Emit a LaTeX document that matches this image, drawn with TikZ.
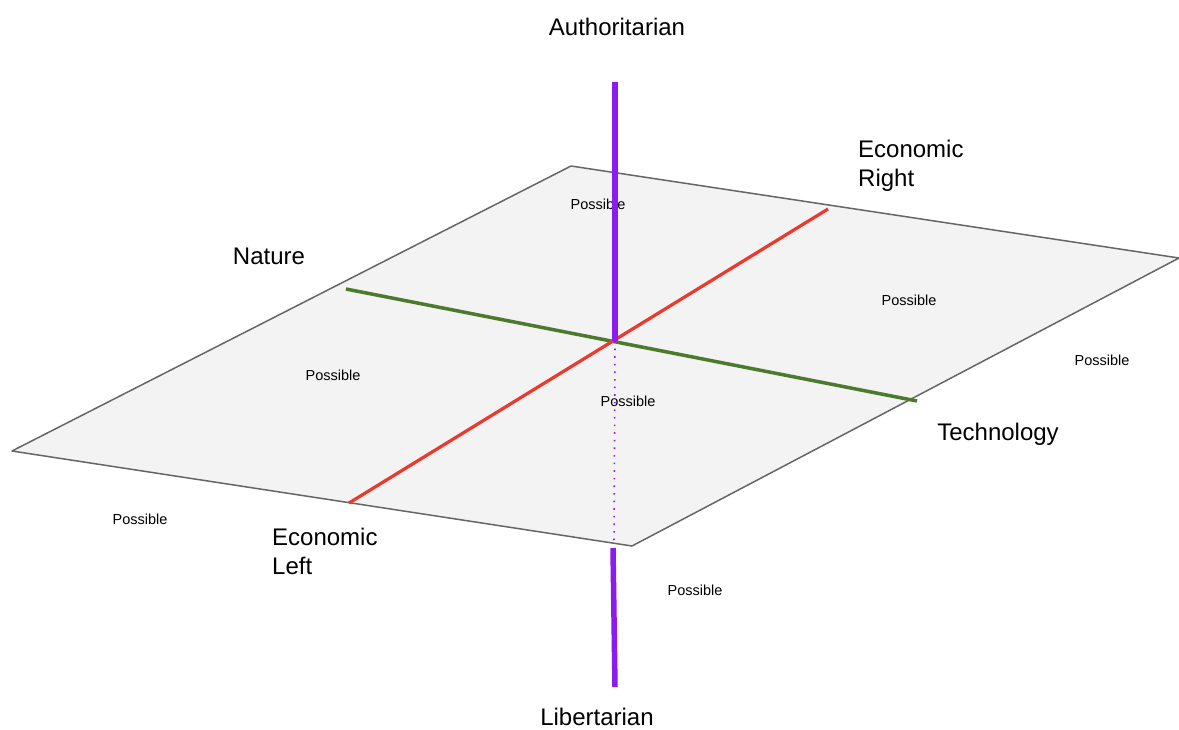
\documentclass[tikz,border=0pt]{standalone}
\usepackage{fontspec}
\setmainfont{Liberation Sans}
\usetikzlibrary{positioning}
\definecolor{planefill}{HTML}{F3F3F3}
\definecolor{planeedge}{HTML}{666666}
\definecolor{authcol}{HTML}{8A1CF0}
\definecolor{econcol}{HTML}{EA3A2D}
\definecolor{natcol}{HTML}{4B7A2C}

\begin{document}
\begin{tikzpicture}[
			x=1pt, y=-1pt,
			every node/.style={font=\fontsize{24}{29}\selectfont},
			axislabel/.style={align=left, inner sep=0pt},
			possible/.style={font=\fontsize{14.5}{16}\selectfont, inner sep=0pt},
			plane/.style={fill=planefill, draw=planeedge, line width=1.5pt, line join=round},
			authaxis/.style={draw=authcol, line width=5.5pt},
			econaxis/.style={draw=econcol, line width=3.2pt},
			nataxis/.style={draw=natcol, line width=3.5pt}
			]
			\useasboundingbox (0,0) rectangle (1179,729);
			
			% Plane
			\coordinate (top) at (571,166);
			\coordinate (rightcorner) at (1179,258);
			\coordinate (bottom) at (632,546);
			\coordinate (leftcorner) at (12,451);
			\draw [plane] (top) -- (rightcorner) -- (bottom) -- (leftcorner) -- cycle;
			
			% Possible
			\node (p1) [possible] at (598,204) {Possible};
			\node (p2) [possible] at (909,300) {Possible};
			\node (p3) [possible] at (1102,360) {Possible};
			\node (p4) [possible] at (333,375) {Possible};
			\node (p5) [possible] at (628,401) {Possible};
			\node (p6) [possible] at (140,519) {Possible};
			\node (p7) [possible] at (695,590) {Possible};
			
			% Axis ends
			\coordinate (centre) at (615,341);
			\coordinate (authtop) at (615,82);
			\coordinate (libtop) at (613,548);
			\coordinate (libbottom) at (615,687);
			\coordinate (planelow) at (614,545);
			\coordinate (econleft) at (349,503);
			\coordinate (econright) at (828,209);
			\coordinate (natleft) at (346,289);
			\coordinate (techright) at (917,401);
			
			% Axes
			\draw [nataxis] (natleft) -- (techright);
			\draw [econaxis] (econleft) -- (econright);
			\draw [authaxis] (authtop) -- (centre);
			\draw [authcol, line width=1.6pt, dash pattern=on 1.6pt off 6pt] (centre) -- (planelow);
			\draw [authaxis] (libtop) -- (libbottom);
			
			% Labels
			\node (auth) at (617,27) {Authoritarian};
			\node (lib) [inner sep=0pt] at (597,717) {Libertarian};
			\node (nature) at (269,256) {Nature};
			\node (tech) at (998,434) {Technology};
			\node (eright) [axislabel, anchor=north west] at (858,140) {Economic\\Right};
			\node (eleft) [axislabel, anchor=north west] at (272,528) {Economic\\Left};
			
		\end{tikzpicture}
\end{document}
